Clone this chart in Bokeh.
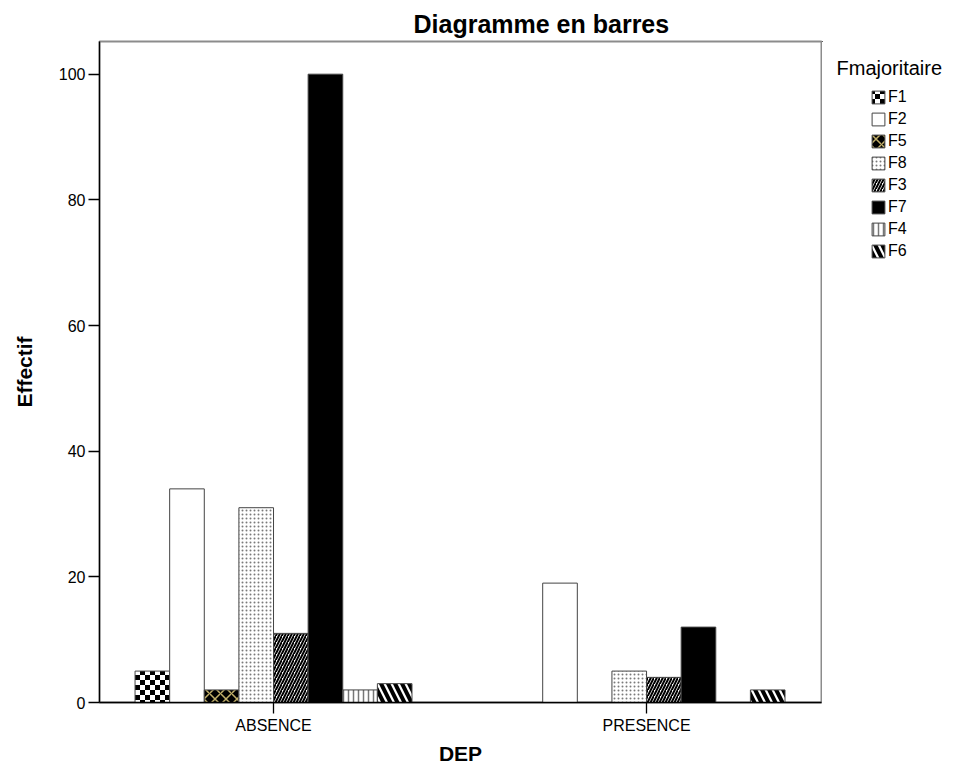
import base64, struct, zlib
from bokeh.plotting import figure
from bokeh.layouts import row
from bokeh.models import (Range1d, FixedTicker, Legend, LegendItem, Label,
                          ColumnDataSource, ImageURLTexture, Title)
from bokeh.transform import dodge
from bokeh.core.properties import value
from bokeh.embed import file_html
from bokeh.resources import INLINE

# ---- data ----
groups = ["ABSENCE", "PRESENCE"]
series = ["F1", "F2", "F5", "F8", "F3", "F7", "F4", "F6"]
F1 = [5, 0]
F2 = [34, 19]
F5 = [2, 0]
F8 = [31, 5]
F3 = [11, 4]
F7 = [100, 12]
F4 = [2, 0]
F6 = [3, 2]
y_ticks = [0, 20, 40, 60, 80, 100]


def checker_png(n=5):
    size = 2 * n
    raw = b""
    for yy in range(size):
        r = b"\x00"
        for xx in range(size):
            black = ((xx // n) + (yy // n)) % 2 == 0
            r += b"\x00\x00\x00" if black else b"\xff\xff\xff"
        raw += r

    def chunk(tag, data):
        c = struct.pack(">I", len(data)) + tag + data
        return c + struct.pack(">I", zlib.crc32(tag + data) & 0xffffffff)

    png = b"\x89PNG\r\n\x1a\n"
    png += chunk(b"IHDR", struct.pack(">IIBBBBB", size, size, 8, 2, 0, 0, 0))
    png += chunk(b"IDAT", zlib.compress(raw))
    png += chunk(b"IEND", b"")
    return "data:image/png;base64," + base64.b64encode(png).decode()


def styles_for(s):
    st = {
        "F1": dict(fill_color="white", hatch_pattern=value("checker"),
                   hatch_extra={"checker": ImageURLTexture(url=checker_png(5), repetition="repeat")}),
        "F2": dict(fill_color="white"),
        "F5": dict(fill_color="black", hatch_pattern="diagonal_cross", hatch_color="#c2b06a",
                   hatch_scale=11, hatch_weight=1.5),
        "F8": dict(fill_color="white", hatch_pattern="dot", hatch_color="#7a7a7a",
                   hatch_scale=4, hatch_weight=0.7),
        "F3": dict(fill_color="white", hatch_pattern="right_diagonal_line", hatch_color="black",
                   hatch_scale=6, hatch_weight=2),
        "F7": dict(fill_color="black"),
        "F4": dict(fill_color="white", hatch_pattern="vertical_line", hatch_color="#777777",
                   hatch_scale=5, hatch_weight=1.5),
        "F6": dict(fill_color="white", hatch_pattern="left_diagonal_line", hatch_color="black",
                   hatch_scale=14, hatch_weight=4),
    }
    return st[s]


values = {"F1": F1, "F2": F2, "F5": F5, "F8": F8, "F3": F3, "F7": F7, "F4": F4, "F6": F6}
src = ColumnDataSource(dict(x=list(range(len(groups))), **values))

bw = 0.0928
H = 767
TOP = 41
BOTTOM_PANEL = 65

p = figure(width=822, height=H, output_backend="svg", toolbar_location=None,
           x_range=Range1d(-0.4665, 1.469), y_range=Range1d(0, 105.2),
           min_border_left=99, min_border_right=1, min_border_top=TOP,
           min_border_bottom=BOTTOM_PANEL, background_fill_color="white",
           border_fill_color="white")

p.title = Title(text="Diagramme en barres", align="left", offset=314,
                text_font="Liberation Sans", text_font_size="25px",
                text_font_style="bold", text_color="black", standoff=7)

n = len(series)
for i, s in enumerate(series):
    off = (i - (n - 1) / 2) * bw
    p.vbar(x=dodge("x", off), top=s, width=bw, bottom=0, source=src,
           line_color="#444444", line_width=1, **styles_for(s))

p.grid.visible = False
p.outline_line_color = "#8c8c8c"
p.outline_line_width = 2

p.xaxis.ticker = FixedTicker(ticks=list(range(len(groups))))
p.xaxis.major_label_overrides = {i: g for i, g in enumerate(groups)}
p.yaxis.ticker = FixedTicker(ticks=y_ticks)

for ax in (p.xaxis[0], p.yaxis[0]):
    ax.axis_line_color = "black"
    ax.axis_line_width = 1.3
    ax.major_tick_line_color = "black"
    ax.major_tick_line_width = 1.3
    ax.major_tick_out = 11
    ax.major_tick_in = 0
    ax.minor_tick_line_color = None
    ax.major_label_text_font = "Liberation Sans"
    ax.major_label_text_font_size = "16px"
    ax.major_label_text_color = "black"
    ax.major_label_standoff = 3
    ax.axis_label_text_font = "Liberation Sans"
    ax.axis_label_text_font_size = "21px"
    ax.axis_label_text_font_style = "bold"
    ax.axis_label_text_color = "black"

p.xaxis.axis_label = "DEP"
p.xaxis.axis_label_standoff = 5
p.yaxis.axis_label = "Effectif"
p.yaxis.axis_label_standoff = 20

# ---- legend panel (separate plot to the right) ----
W2 = 942 - 822
FB = H - BOTTOM_PANEL  # frame bottom in pixels
q = figure(width=W2, height=H, output_backend="svg", toolbar_location=None,
           x_range=Range1d(0, W2), y_range=Range1d(FB, TOP),
           min_border_left=0, min_border_right=0, min_border_top=TOP,
           min_border_bottom=BOTTOM_PANEL,
           background_fill_color="white", border_fill_color="white")
q.axis.visible = False
q.grid.visible = False
q.outline_line_color = None

items = []
for s in series:
    r = q.vbar(x=[-1000], top=[0], width=1, bottom=0,
               line_color="#444444", line_width=1, **styles_for(s))
    items.append(LegendItem(label=s, renderers=[r]))

legend = Legend(items=items, location=(48, FB - 260), margin=0, padding=0,
                border_line_color=None, background_fill_alpha=0,
                glyph_width=16, glyph_height=16, label_height=16,
                label_standoff=2, spacing=4,
                label_text_font="Liberation Sans", label_text_font_size="16px",
                label_text_color="black")
q.add_layout(legend, "center")

q.add_layout(Label(x=14, y=67, text="Fmajoritaire", text_font="Liberation Sans",
                   text_font_size="20px", text_color="black",
                   text_baseline="alphabetic"))

layout = row(p, q, spacing=0)
open("out.html", "w").write(file_html(layout, INLINE))
